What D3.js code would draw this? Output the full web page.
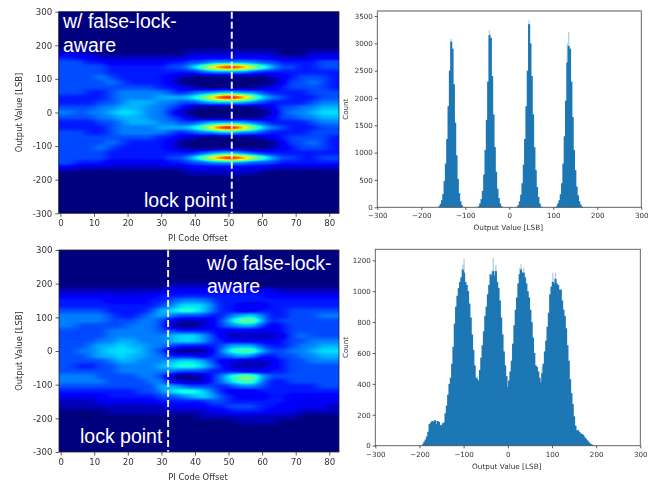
<!DOCTYPE html>
<html>
<head>
<meta charset="utf-8">
<script src="https://cdn.jsdelivr.net/npm/d3@7"></script>
<style>
  html, body { margin: 0; padding: 0; background: #fff; }
  svg { display: block; }
  text { font-family: "DejaVu Sans", sans-serif; }
</style>
</head>
<body>
<div id="chart"></div>
<script>
// heatmap cells: intensity 0..20 on the jet colour range
const heatCols = [0, 3, 6, 9, 12, 15, 18, 21, 24, 27, 30, 33, 36, 39, 42, 45, 48, 51, 54, 57, 60, 63, 66, 69, 72, 75, 78, 81];
const heatLevels = [225, 210, 195, 180, 165, 150, 135, 120, 105, 90, 75, 60, 45, 30, 15, 0, -15, -30, -45, -60, -75, -90, -105, -120, -135, -150, -165, -180, -195, -210, -225];

const heatTop = [
  [0,0,0,0,0,0,0,0,0,0,0,0,0,0,0,0,0,0,0,0,0,0,0,0,0,0,0,0],
  [0,0,0,0,0,0,0,0,0,0,0,0,0,0,0,0,0,0,0,0,0,0,0,0,0,0,0,0],
  [0,0,0,0,0,0,0,0,0,0,0,0,0,0,0,0,0,0,0,0,0,0,0,0,0,0,0,0],
  [1,1,1,1,0,0,0,0,0,0,0,0,0,1,1,1,1,1,1,1,1,1,0,0,0,1,1,1],
  [3,3,2,2,1,1,1,1,1,1,1,1,1,2,2,2,2,2,2,2,2,2,1,1,1,2,2,2],
  [4,4,4,3,3,2,2,2,2,2,2,3,3,4,4,5,5,5,5,5,4,4,3,3,3,3,4,4],
  [4,4,4,4,4,3,3,3,3,3,3,4,4,6,9,13,17,18,16,12,9,6,4,4,3,3,4,4],
  [4,4,4,4,4,3,3,3,3,3,3,3,3,3,4,5,5,5,5,4,3,3,3,3,3,3,3,3],
  [4,4,4,4,5,4,3,3,3,3,3,2,1,0,0,0,0,0,0,0,0,1,2,3,4,4,4,3],
  [4,4,4,4,4,5,4,3,3,3,3,2,0,0,0,0,0,0,0,0,0,0,2,4,4,5,4,3],
  [4,4,4,4,4,4,4,4,4,4,3,3,2,1,0,0,0,0,0,0,1,2,3,4,4,4,4,3],
  [4,4,4,3,3,4,5,5,5,5,5,4,3,4,5,5,6,6,5,5,4,3,3,3,3,4,4,4],
  [3,3,3,3,3,4,5,5,5,5,6,6,6,7,9,13,18,19,16,11,7,5,4,3,3,3,4,4],
  [3,3,3,3,4,4,5,6,6,6,5,5,4,4,5,6,6,6,6,5,4,3,3,3,3,4,5,5],
  [4,4,4,4,5,5,6,6,6,5,5,4,3,1,0,0,0,0,0,0,1,2,4,4,5,5,6,6],
  [5,5,4,5,5,6,7,7,6,5,5,3,1,0,0,0,0,0,0,0,0,1,4,5,5,6,7,7],
  [4,4,4,4,5,5,6,6,6,5,5,4,3,1,0,0,0,0,0,0,1,2,4,4,5,5,6,6],
  [3,3,3,3,4,4,5,6,6,6,5,5,4,4,5,6,6,6,6,5,4,3,3,3,3,4,5,5],
  [3,3,3,3,3,4,5,5,5,5,6,6,6,7,9,13,18,19,15,11,7,5,4,3,3,3,4,4],
  [4,4,4,3,3,4,5,5,5,5,5,4,3,4,5,5,6,6,5,5,4,3,3,3,3,4,4,4],
  [4,4,4,4,4,4,4,4,4,4,3,3,2,1,0,0,0,0,0,0,1,2,3,4,4,4,4,3],
  [4,4,4,4,4,5,4,3,3,3,3,2,0,0,0,0,0,0,0,0,0,0,2,4,4,5,4,3],
  [4,4,4,4,5,4,3,3,3,3,3,2,1,0,0,0,0,0,0,0,0,1,2,3,4,4,4,3],
  [4,4,4,4,4,3,3,3,3,3,3,3,3,3,4,5,6,6,5,4,3,3,3,3,3,3,3,3],
  [4,4,4,4,4,3,3,3,3,3,3,4,4,6,9,13,17,19,16,12,9,6,4,4,3,3,4,4],
  [4,4,3,3,3,2,2,2,2,2,2,3,3,4,4,5,5,5,5,4,4,4,3,3,3,3,3,3],
  [2,2,1,1,1,1,1,1,1,1,1,1,1,2,2,2,2,2,2,2,2,1,1,1,1,1,1,1],
  [0,0,0,0,0,0,0,0,0,0,0,0,0,1,1,1,1,1,1,1,0,0,0,0,0,0,0,0],
  [0,0,0,0,0,0,0,0,0,0,0,0,0,0,0,0,0,0,0,0,0,0,0,0,0,0,0,0],
  [0,0,0,0,0,0,0,0,0,0,0,0,0,0,0,0,0,0,0,0,0,0,0,0,0,0,0,0],
  [0,0,0,0,0,0,0,0,0,0,0,0,0,0,0,0,0,0,0,0,0,0,0,0,0,0,0,0]
];

const heatBottom = [
  [0,0,0,0,0,0,0,0,0,0,0,0,0,0,0,0,0,0,0,0,0,0,0,0,0,0,0,0],
  [0,0,0,0,0,0,0,0,0,0,0,0,0,0,0,0,0,0,0,0,0,0,0,0,0,0,0,0],
  [0,0,0,0,0,0,0,0,0,0,0,1,1,1,1,1,1,1,1,0,0,0,0,0,0,0,0,0],
  [1,1,1,1,1,1,1,1,1,1,1,2,2,2,2,2,2,2,2,2,2,2,1,1,1,1,1,1],
  [2,2,2,2,2,2,2,2,2,2,3,3,3,3,3,3,3,3,3,3,3,2,2,2,2,2,2,2],
  [3,3,3,3,3,2,2,2,2,3,3,4,5,5,5,4,3,3,3,3,3,3,3,3,3,3,3,3],
  [3,3,3,3,3,3,3,3,3,3,4,5,7,7,7,5,3,3,2,2,2,3,3,3,3,3,3,3],
  [4,4,4,4,4,3,3,3,3,4,6,7,8,8,7,5,3,3,2,2,3,3,3,4,4,4,4,4],
  [5,5,5,5,5,4,3,3,4,5,6,5,4,4,4,3,3,5,6,7,5,3,3,4,4,4,5,5],
  [5,5,5,5,5,4,4,4,5,5,4,2,1,1,1,2,4,7,10,10,6,3,4,4,4,4,4,4],
  [5,5,4,4,4,4,4,5,5,5,4,1,0,0,1,2,4,5,6,6,4,2,3,4,4,4,4,4],
  [4,4,4,4,4,5,5,5,5,5,4,4,3,3,3,3,2,2,2,2,2,2,3,4,4,4,4,4],
  [4,4,4,4,4,5,5,5,5,5,5,6,7,7,6,4,2,1,1,1,1,1,2,4,5,4,4,4],
  [4,4,4,4,5,5,6,6,5,5,5,6,7,7,6,4,3,2,2,2,2,2,3,4,4,5,5,5],
  [4,4,4,5,6,6,7,6,6,5,5,4,3,3,3,3,4,6,6,6,4,3,3,4,5,5,6,6],
  [4,4,5,5,6,7,7,7,6,5,4,1,0,0,0,2,5,8,9,9,6,4,4,5,5,6,7,7],
  [4,4,4,5,6,6,7,6,6,5,5,3,3,3,2,3,4,5,6,5,3,3,4,4,5,5,6,6],
  [4,4,4,4,4,5,6,6,5,5,5,6,7,7,6,4,2,2,1,1,1,2,3,4,4,5,5,5],
  [4,4,3,3,4,4,5,5,5,5,6,7,8,8,7,5,3,1,1,1,1,2,3,4,4,4,4,4],
  [4,4,4,4,4,4,5,5,5,5,5,5,4,4,4,3,3,3,2,2,2,3,3,4,4,4,4,4],
  [5,5,5,5,4,4,4,4,5,5,4,1,0,0,1,3,5,8,10,10,6,4,4,4,4,4,4,4],
  [5,5,5,5,5,4,4,4,4,5,5,2,1,1,1,3,5,7,9,9,5,3,3,4,4,4,4,4],
  [4,4,4,4,4,4,4,4,4,4,6,6,5,4,4,4,3,4,5,5,4,3,3,3,3,3,4,4],
  [3,3,3,3,3,3,3,3,4,4,5,7,8,8,7,5,3,2,2,2,3,3,3,3,3,3,3,3],
  [2,2,2,2,2,3,3,3,3,3,4,4,5,6,7,6,4,3,2,2,2,3,3,2,2,2,2,2],
  [1,1,1,1,2,2,2,2,2,2,3,3,3,3,3,4,4,3,3,3,3,3,3,2,2,2,2,2],
  [1,1,1,1,1,1,1,1,1,1,1,2,2,2,2,3,3,4,4,4,3,3,2,2,2,2,2,1],
  [0,0,0,0,0,1,1,1,1,1,1,1,1,1,1,2,2,3,3,3,3,2,2,2,1,1,1,1],
  [0,0,0,0,0,0,0,0,0,0,0,0,0,0,1,1,1,1,1,1,1,1,1,1,0,0,0,0],
  [0,0,0,0,0,0,0,0,0,0,0,0,0,0,0,0,0,0,1,1,1,1,0,0,0,0,0,0],
  [0,0,0,0,0,0,0,0,0,0,0,0,0,0,0,0,0,0,0,0,0,0,0,0,0,0,0,0]
];

// histograms, 3 LSB bins
const binStart = -195;
const histTop = [0,0,0,0,0,0,0,0,0,0,0,0,
  20,60,130,240,480,800,1250,1850,2500,3030,2900,2250,1550,950,520,260,110,40,
  0,0,0,0,0,0,0,0,0,0,0,0,
  20,70,150,300,600,1050,1600,2300,3150,3100,2400,1700,1100,650,340,170,70,20,
  0,0,0,0,0,0,0,0,0,0,0,
  10,40,110,230,440,780,1250,1850,2500,3350,3000,2400,1700,1100,680,370,190,70,15,
  0,0,0,0,0,0,0,0,0,0,0,
  20,70,130,240,440,800,1300,1950,2650,2950,2900,2300,1650,1050,680,380,220,110,50,15,0];
const histBottom = [0,10,25,40,60,90,140,150,160,155,165,140,160,155,135,130,145,150,210,260,
  330,400,440,530,640,790,900,970,1020,1060,1090,1140,1120,1060,1040,1000,920,830,720,620,
  520,440,430,420,490,570,650,740,840,900,980,1040,1110,1100,1130,1100,1130,1060,1020,940,
  830,720,610,520,450,380,420,480,550,660,780,880,960,1050,1110,1140,1120,1120,1090,1050,
  1000,960,880,800,700,600,520,510,480,440,410,470,530,610,680,770,860,980,1030,1060,
  1050,1080,1050,1040,1010,1010,940,880,840,760,650,550,430,340,270,190,130,100,100,90,
  80,75,70,55,45,35,25,15,10,5,2,0];
// pale spikes standing above the solid part
const tipTopBins = [-132, -45, 45, 135, 132];
const tipTopVals = [3080, 3240, 3420, 3210, 3000];
const tipBottomBins = [-99, -102, -36, -33, -27, 30, 27, 36, 102, 108, -69, 3, 78];
const tipBottomVals = [1210, 1170, 1130, 1215, 1170, 1175, 1150, 1150, 1120, 1120, 450, 430, 510];

const lockTop = 51;
const lockBottom = 32;

const heatXTicks = [0, 10, 20, 30, 40, 50, 60, 70, 80];
const heatYTicks = [300, 200, 100, 0, -100, -200, -300];
const histXTicks = [-300, -200, -100, 0, 100, 200, 300];
const histTopYTicks = [0, 500, 1000, 1500, 2000, 2500, 3000, 3500];
const histBottomYTicks = [0, 200, 400, 600, 800, 1000, 1200];

const svg = d3.select("#chart").append("svg").attr("width", 656).attr("height", 485);
const defs = svg.append("defs");

// gray cells get blurred, then mapped to jet so the smoothing stays on the colour range
const jetT = d3.range(0, 1.0001, 1 / 64);
const jetR = d3.scaleLinear().domain([0, 0.35, 0.66, 0.89, 1]).range([0, 0, 1, 1, 0.5]);
const jetG = d3.scaleLinear().domain([0, 0.125, 0.375, 0.64, 0.91, 1]).range([0, 0, 1, 1, 0, 0]);
const jetB = d3.scaleLinear().domain([0, 0.11, 0.34, 0.65, 1]).range([0.5, 1, 1, 0, 0]);

const filter = defs.append("filter").attr("id", "jetBlur")
  .attr("filterUnits", "userSpaceOnUse")
  .attr("x", 0).attr("y", 0).attr("width", 656).attr("height", 485)
  .attr("color-interpolation-filters", "sRGB");
filter.append("feGaussianBlur").attr("stdDeviation", "5 1.6");
const transfer = filter.append("feComponentTransfer");
[["feFuncR", jetR], ["feFuncG", jetG], ["feFuncB", jetB]].forEach(([tag, fn]) => {
  transfer.append(tag).attr("type", "table").attr("tableValues", jetT.map(t => fn(t).toFixed(3)).join(" "));
});

defs.append("filter").attr("id", "soft")
  .attr("filterUnits", "userSpaceOnUse")
  .attr("x", 0).attr("y", 0).attr("width", 656).attr("height", 485)
  .append("feGaussianBlur").attr("stdDeviation", 0.35);

function styleAxis(g, size) {
  g.selectAll("text").attr("font-size", size).attr("fill", "#333");
  g.selectAll("line").attr("stroke", "#333").attr("stroke-width", 0.8);
  g.select(".domain").remove();
}

function frame(g, box, color, width) {
  g.append("rect")
    .attr("x", box.left).attr("y", box.top)
    .attr("width", box.right - box.left).attr("height", box.bottom - box.top)
    .attr("fill", "none").attr("stroke", color).attr("stroke-width", width);
}

function drawHeat(box, cells, lock, id) {
  const x = d3.scaleLinear().domain([-0.5, 82.9]).range([box.left, box.right]);
  const y = d3.scaleLinear().domain([-300, 300]).range([box.bottom, box.top]);
  const gray = d3.scaleLinear().domain([0, 20]).range([0, 255]);

  defs.append("clipPath").attr("id", id).append("rect")
    .attr("x", box.left).attr("y", box.top)
    .attr("width", box.right - box.left).attr("height", box.bottom - box.top);

  const layer = svg.append("g").attr("clip-path", `url(#${id})`)
    .append("g").attr("filter", "url(#jetBlur)");
  layer.append("rect")
    .attr("x", box.left - 30).attr("y", box.top - 30)
    .attr("width", box.right - box.left + 60).attr("height", box.bottom - box.top + 60)
    .attr("fill", "#000");

  const last = heatCols.length - 1;
  cells.forEach((row, r) => {
    layer.selectAll(null)
      .data(row)
      .enter()
      .append("rect")
      .attr("x", (d, i) => x(i === 0 ? -12 : heatCols[i] - 1.5))
      .attr("y", y(heatLevels[r] + 7.5))
      .attr("width", (d, i) => x(i === last ? 96 : heatCols[i] + 1.5) - x(i === 0 ? -12 : heatCols[i] - 1.5) + 0.5)
      .attr("height", y(heatLevels[r] - 7.5) - y(heatLevels[r] + 7.5) + 0.5)
      .attr("fill", d => { const v = Math.round(gray(d)); return `rgb(${v},${v},${v})`; });
  });

  svg.append("line")
    .attr("x1", x(lock)).attr("x2", x(lock))
    .attr("y1", box.top).attr("y2", box.bottom)
    .attr("stroke", "#f0eefa").attr("stroke-width", 2).attr("stroke-dasharray", "7 3");

  const soft = svg.append("g").attr("filter", "url(#soft)");
  frame(soft, box, "#222", 0.8);
  soft.append("g").attr("transform", `translate(0,${box.bottom})`)
    .call(d3.axisBottom(x).tickValues(heatXTicks).tickSize(3.5).tickPadding(3))
    .call(styleAxis, 8.6);
  soft.append("g").attr("transform", `translate(${box.left},0)`)
    .call(d3.axisLeft(y).tickValues(heatYTicks).tickSize(3.5).tickPadding(3).tickFormat(d => String(d)))
    .call(styleAxis, 8.6);
  soft.append("text")
    .attr("x", (box.left + box.right) / 2 - 1).attr("y", box.bottom + 28)
    .attr("text-anchor", "middle").attr("font-size", 8.4).attr("fill", "#333")
    .text("PI Code Offset");
  soft.append("text")
    .attr("transform", `translate(22,${(box.top + box.bottom) / 2}) rotate(-90)`)
    .attr("text-anchor", "middle").attr("font-size", 8.4).attr("fill", "#333")
    .text("Output Value [LSB]");
}

function drawHist(box, values, yMax, yTicks, tipBins, tipVals, topStroke) {
  const x = d3.scaleLinear().domain([-300, 300]).range([box.left, box.right]);
  const y = d3.scaleLinear().domain([0, yMax]).range([box.bottom, box.top]);
  const barW = x(3) - x(0);
  const minus = d => String(d).replace("-", "\u2212");

  const bars = svg.append("g").attr("filter", "url(#soft)");
  bars.append("g").selectAll("rect")
    .data(tipVals)
    .enter()
    .append("rect")
    .attr("x", (d, i) => x(tipBins[i]) - barW / 2)
    .attr("y", d => y(d))
    .attr("width", barW)
    .attr("height", d => y(0) - y(d))
    .attr("fill", "#1f77b4").attr("opacity", 0.35);

  bars.append("g").selectAll("rect")
    .data(values)
    .enter()
    .append("rect")
    .attr("x", (d, i) => x(binStart + i * 3) - barW / 2 - 0.4)
    .attr("y", d => y(d))
    .attr("width", barW + 0.8)
    .attr("height", d => y(0) - y(d))
    .attr("fill", "#1f77b4");

  const soft = svg.append("g").attr("filter", "url(#soft)");
  frame(soft, box, "#555", 0.9);
  if (topStroke) {
    soft.append("line")
      .attr("x1", box.left).attr("x2", box.right)
      .attr("y1", box.top).attr("y2", box.top)
      .attr("stroke", "#aaa").attr("stroke-width", topStroke);
  }
  soft.append("g").attr("transform", `translate(0,${box.bottom})`)
    .call(d3.axisBottom(x).tickValues(histXTicks).tickSize(2.6).tickPadding(3.5).tickFormat(minus))
    .call(styleAxis, 7.1);
  soft.append("g").attr("transform", `translate(${box.left},0)`)
    .call(d3.axisLeft(y).tickValues(yTicks).tickSize(2.6).tickPadding(2).tickFormat(d => String(d)))
    .call(styleAxis, 7.1);
  soft.append("text")
    .attr("x", (box.left + box.right) / 2 - 1).attr("y", box.bottom + 23)
    .attr("text-anchor", "middle").attr("font-size", 7.3).attr("fill", "#333")
    .text("Output Value [LSB]");
  soft.append("text")
    .attr("transform", `translate(348,${(box.top + box.bottom) / 2}) rotate(-90)`)
    .attr("text-anchor", "middle").attr("font-size", 7.1).attr("fill", "#333")
    .text("Count");
}

drawHeat({ left: 58.7, right: 339, top: 11.7, bottom: 213.3 }, heatTop, lockTop, "clipTop");
drawHeat({ left: 59, right: 339, top: 250, bottom: 452 }, heatBottom, lockBottom, "clipBottom");
drawHist({ left: 377.3, right: 641.3, top: 11, bottom: 207.3 }, histTop, 3591, histTopYTicks, tipTopBins, tipTopVals, 2);
drawHist({ left: 375.3, right: 640.3, top: 249.3, bottom: 445.7 }, histBottom, 1271, histBottomYTicks, tipBottomBins, tipBottomVals, 0);

// white labels pasted over the heatmaps
function note(x, y, line) {
  svg.append("text")
    .attr("x", x).attr("y", y)
    .attr("font-size", 19.5).attr("fill", "#fff")
    .style("font-family", "'Liberation Sans', sans-serif")
    .text(line);
}
note(63, 28, "w/ false-lock-");
note(63, 52, "aware");
note(144, 207, "lock point");
note(207, 270, "w/o false-lock-");
note(207, 293, "aware");
note(80, 443, "lock point");
</script>
</body>
</html>
